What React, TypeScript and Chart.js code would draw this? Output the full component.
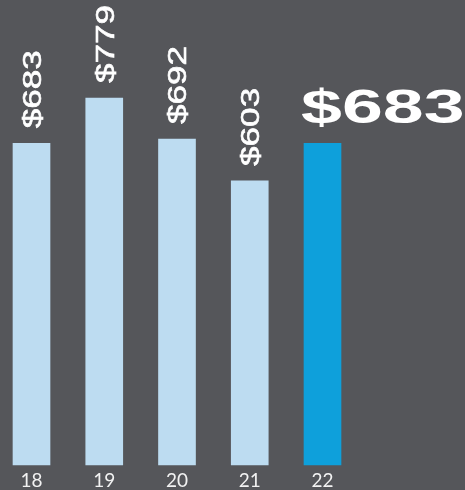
import React, { useEffect, useRef } from "react";
import { Chart, registerables } from "chart.js";

Chart.register(...registerables);

const categories = ["18", "19", "20", "21", "22"];
const values = [683, 779, 692, 603, 683];
const valueLabels = ["$683", "$779", "$692", "$603", "$683"];

const BG = "#55565a";
const LIGHT = "#bddcf1";
const BLUE = "#0ea0db";

const labelPlugin = {
  id: "valueLabels",
  afterDatasetsDraw(chart: any) {
    const ctx = chart.ctx;
    const meta = chart.getDatasetMeta(0);
    const n = meta.data.length;
    meta.data.forEach((bar: any, i: number) => {
      const text = valueLabels[i];
      ctx.save();
      ctx.fillStyle = "#ffffff";
      ctx.strokeStyle = "#ffffff";
      ctx.textBaseline = "alphabetic";
      ctx.textAlign = "left";
      if (i === n - 1) {
        ctx.font = "bold 49px 'Liberation Sans', Arial, sans-serif";
        ctx.translate(bar.x - bar.width / 2 - 3, bar.y - 20);
        ctx.scale(1.5, 1);
        ctx.fillText(text, 0, 0);
      } else {
        ctx.font = "normal 26px 'Liberation Sans', Arial, sans-serif";
        const capH = 26 * 0.716;
        ctx.translate(bar.x + capH / 2, bar.y - 15);
        ctx.rotate(-Math.PI / 2);
        ctx.scale(1.35, 1);
        ctx.lineWidth = 0.6;
        ctx.fillText(text, 0, 0);
        ctx.strokeText(text, 0, 0);
      }
      ctx.restore();
    });
  },
};

function BarChart() {
  const ref = useRef<HTMLCanvasElement | null>(null);
  useEffect(() => {
    if (!ref.current) return;
    const chart = new Chart(ref.current, {
      type: "bar",
      data: {
        labels: categories,
        datasets: [
          {
            data: values,
            backgroundColor: values.map((_, i) => (i === values.length - 1 ? BLUE : LIGHT)),
            barThickness: 37,
            clip: false as any,
            borderWidth: 0,
          },
        ],
      },
      options: {
        responsive: false,
        maintainAspectRatio: false,
        animation: false,
        layout: { padding: { left: 31.5, right: 142.5, top: 41, bottom: 0 } },
        plugins: { legend: { display: false }, tooltip: { enabled: false } },
        scales: {
          x: {
            offset: false,
            grid: { display: false },
            border: { display: false },
            ticks: {
              color: "#f2f2f2",
              font: { family: "Lato, 'Open Sans', sans-serif", size: 19 },
              padding: -4,
              maxRotation: 0,
              autoSkip: false,
            },
            afterFit(scale: any) {
              scale.height = 25;
            },
          },
          y: {
            display: false,
            min: 0,
            max: 900,
          },
        },
      },
      plugins: [labelPlugin],
    });
    return () => chart.destroy();
  }, []);
  return <canvas ref={ref} width={465} height={490} style={{ display: "block" }} />;
}

export default function App() {
  return (
    <div
      style={{
        position: "fixed",
        left: 0,
        top: 0,
        width: 465,
        height: 490,
        background: BG,
        overflow: "hidden",
      }}
    >
      <BarChart />
    </div>
  );
}
